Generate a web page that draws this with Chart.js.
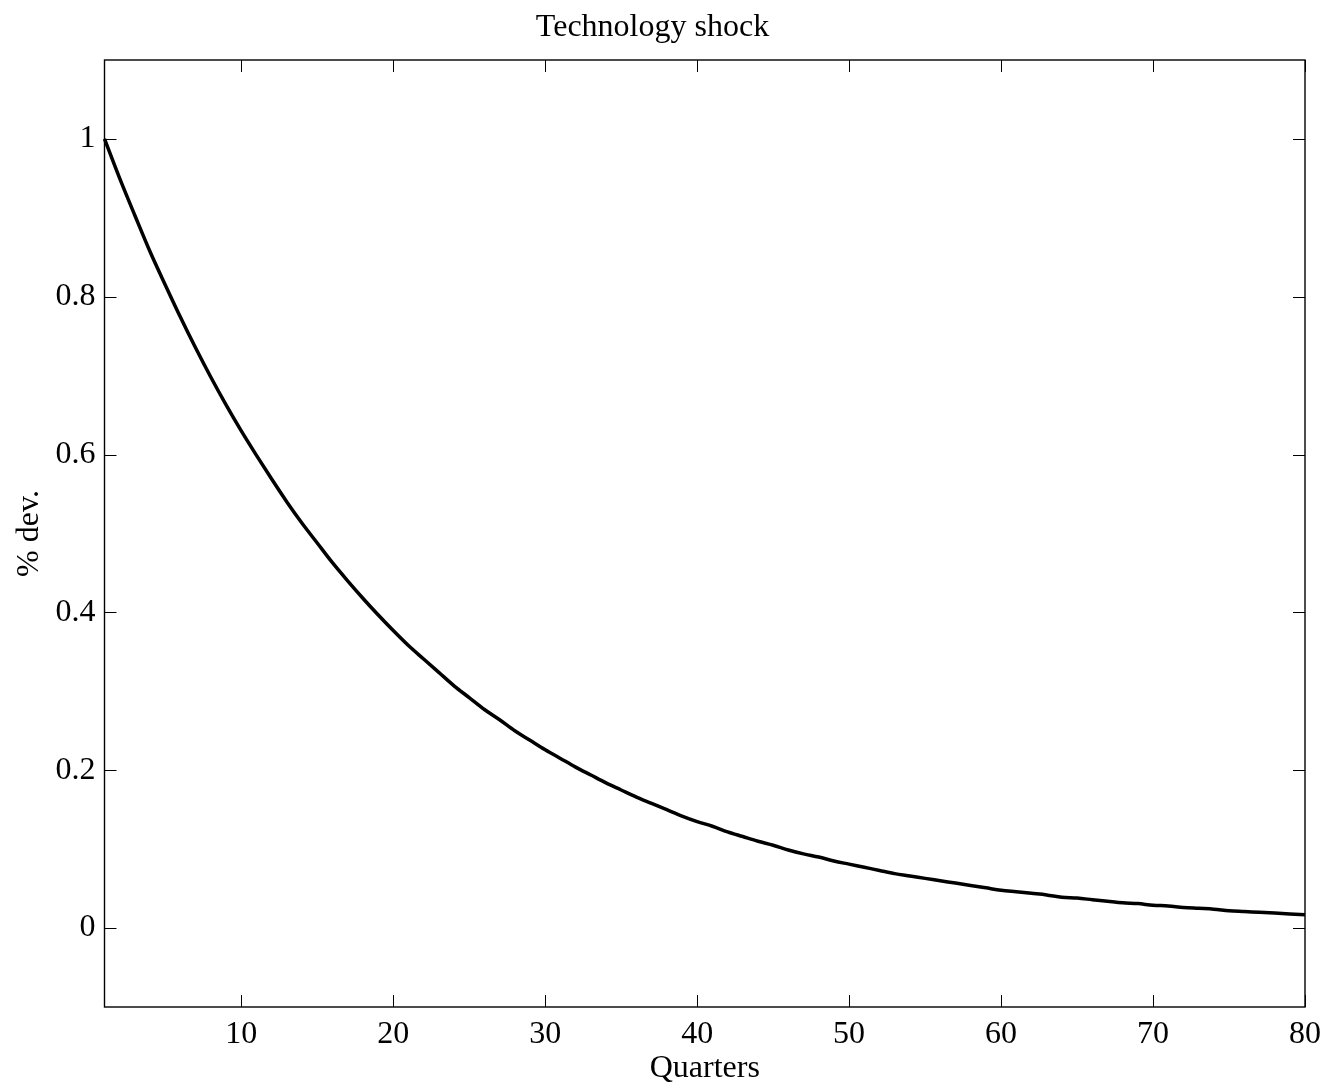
<!DOCTYPE html>
<html>
<head>
<meta charset="utf-8">
<script src="https://cdn.jsdelivr.net/npm/chart.js@4.4.1/dist/chart.umd.min.js"></script>
<style>
html,body{margin:0;padding:0;background:#fff;}
#wrap{width:1326px;height:1085px;position:relative;}
</style>
</head>
<body>
<div id="wrap"><canvas id="c" width="1326" height="1085"></canvas></div>
<script>
const quarters = Array.from({length: 80}, (_, i) => i + 1);
const response = [
1.000,0.950,0.903,0.857,0.815,0.774,0.735,0.698,0.663,0.630,
0.599,0.569,0.540,0.513,0.488,0.463,0.440,0.418,0.397,0.377,
0.358,0.341,0.324,0.307,0.292,0.277,0.264,0.250,0.238,0.226,
0.215,0.204,0.194,0.184,0.175,0.166,0.158,0.150,0.142,0.135,
0.129,0.122,0.116,0.110,0.105,0.099,0.094,0.090,0.085,0.081,
0.077,0.073,0.069,0.066,0.063,0.060,0.057,0.054,0.051,0.048,
0.046,0.044,0.042,0.039,0.038,0.036,0.034,0.032,0.031,0.029,
0.028,0.026,0.025,0.024,0.022,0.021,0.020,0.019,0.018,0.017
];
const xTicks = [10, 20, 30, 40, 50, 60, 70, 80];
const yTicks = [0, 0.2, 0.4, 0.6, 0.8, 1];
const titleText = 'Technology shock';
const xTitle = 'Quarters';
const yTitle = '% dev.';

const FONT = "'Liberation Serif', 'Times New Roman', serif";
const FS = 32;

const boxPlugin = {
  id: 'boxTicks',
  afterDatasetsDraw(chart) {
    const {ctx, chartArea: a, scales} = chart;
    ctx.save();
    ctx.strokeStyle = '#000';
    ctx.lineWidth = 1;
    const L = 12;
    ctx.beginPath();
    xTicks.forEach(v => {
      const x = Math.round(scales.x.getPixelForValue(v)) + 0.5;
      ctx.moveTo(x, a.bottom); ctx.lineTo(x, a.bottom - L);
      ctx.moveTo(x, a.top); ctx.lineTo(x, a.top + L);
    });
    yTicks.forEach(v => {
      const y = Math.round(scales.y.getPixelForValue(v)) + 0.5;
      ctx.moveTo(a.left, y); ctx.lineTo(a.left + L, y);
      ctx.moveTo(a.right, y); ctx.lineTo(a.right - L, y);
    });
    ctx.stroke();
    ctx.lineWidth = 1.4;
    ctx.strokeRect(a.left, a.top, a.right - a.left, a.bottom - a.top);
    ctx.restore();
  }
};

new Chart(document.getElementById('c'), {
  type: 'line',
  data: {
    labels: quarters,
    datasets: [{
      data: quarters.map((q, i) => ({x: q, y: response[i]})),
      borderColor: '#000',
      borderWidth: 3.5,
      pointRadius: 0,
      cubicInterpolationMode: 'monotone',
      fill: false,
      clip: false
    }]
  },
  options: {
    responsive: false,
    animation: false,
    layout: {padding: {left: 0, right: 21, top: 0, bottom: 0}},
    plugins: {
      legend: {display: false},
      tooltip: {enabled: false},
      title: {
        display: true,
        text: titleText,
        color: '#000',
        font: {family: FONT, size: FS, weight: 'normal'},
        padding: {top: 8, bottom: 13.6}
      }
    },
    scales: {
      x: {
        type: 'linear',
        min: 1, max: 80,
        afterBuildTicks: s => { s.ticks = xTicks.map(v => ({value: v})); },
        afterFit: s => { s.height = 78; s.paddingLeft = 0; s.paddingRight = 0; },
        grid: {display: false, drawTicks: false},
        border: {display: false},
        ticks: {color: '#000', font: {family: FONT, size: FS}, padding: 8, maxRotation: 0, autoSkip: false},
        title: {display: true, text: xTitle, color: '#000', font: {family: FONT, size: FS}, padding: {top: 0, bottom: -3}}
      },
      y: {
        type: 'linear',
        min: -0.1, max: 1.1,
        afterBuildTicks: s => { s.ticks = yTicks.map(v => ({value: v})); },
        afterFit: s => { s.width = 104.5; s.paddingTop = 0; s.paddingBottom = 0; },
        grid: {display: false, drawTicks: false},
        border: {display: false},
        ticks: {color: '#000', font: {family: FONT, size: FS}, padding: 9, autoSkip: false,
          callback: v => String(v)},
        title: {display: true, text: yTitle, color: '#000', font: {family: FONT, size: FS}, padding: {top: 10, bottom: 0}}
      }
    }
  },
  plugins: [boxPlugin]
});
</script>
</body>
</html>
